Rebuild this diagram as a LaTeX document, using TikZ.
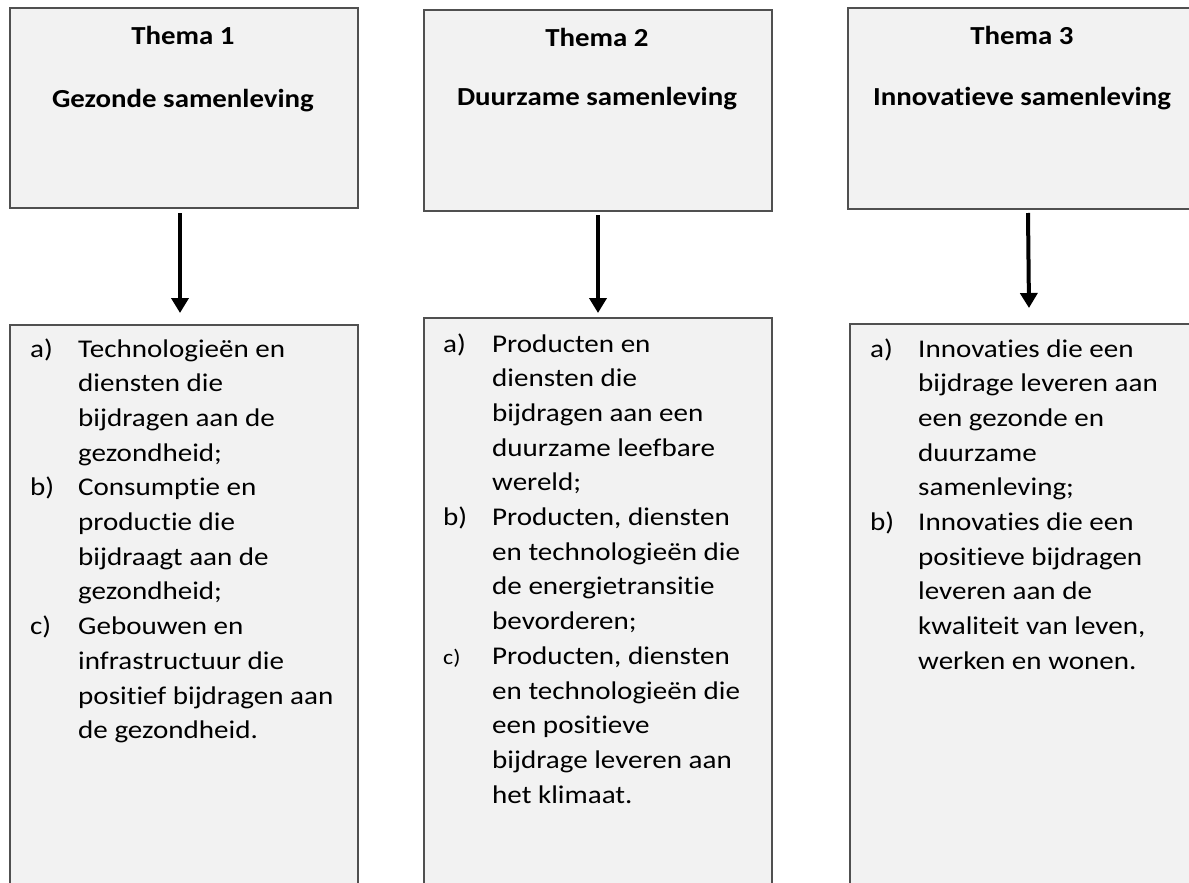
\documentclass[tikz,border=0pt]{standalone}
\usepackage{fontspec}
\setmainfont[Ligatures={NoCommon}]{Carlito}
\newfontfamily\bodyfont[Ligatures={NoCommon},FakeStretch=1.14]{Carlito}
\newfontfamily\headfont[Ligatures={NoCommon},FakeStretch=1.11]{Carlito}
\usetikzlibrary{arrows.meta}
\definecolor{boxfill}{HTML}{F2F2F2}
\definecolor{boxline}{HTML}{505050}
\tikzset{
 panel/.style={draw=boxline, line width=2pt, fill=boxfill, rectangle, inner sep=0pt, anchor=north west},
 headtxt/.style={font=\headfont\fontsize{26}{32}\selectfont\bfseries, anchor=base, inner sep=0pt},
 listtxt/.style={font=\bodyfont\fontsize{25.5}{34.7}\selectfont, anchor=base west, inner sep=0pt},
 arr/.style={line width=4pt, -{Triangle[length=15pt,width=17pt]}}
}
\newcommand{\smalllabel}[1]{{\fontsize{21}{34.7}\selectfont #1}}
\begin{document}
\begin{tikzpicture}[x=1pt,y=-1pt]
\useasboundingbox (0,0) rectangle (1189,883);
% top panels
\node[panel, minimum width=348, minimum height=200] (t1) at (9,7) {};
\node[panel, minimum width=348, minimum height=201] (t2) at (423,9) {};
\node[panel, minimum width=350, minimum height=201] (t3) at (847,7) {};
% bottom panels
\node[panel, minimum width=348, minimum height=580] (b1) at (9,324) {};
\node[panel, minimum width=348, minimum height=590] (b2) at (423,317) {};
\node[panel, minimum width=350, minimum height=580] (b3) at (849,323) {};
% headings
\node[headtxt] (h1a) at (183,45) {Thema 1};
\node[headtxt] (h1b) at (183,107) {Gezonde samenleving};
\node[headtxt] (h2a) at (597,47) {Thema 2};
\node[headtxt] (h2b) at (597,106) {Duurzame samenleving};
\node[headtxt] (h3a) at (1022,45) {Thema 3};
\node[headtxt] (h3b) at (1022,106) {Innovatieve samenleving};
% arrows
\draw[arr] ([xshift=-4pt,yshift=-4pt]t1.south) -- ([xshift=-4pt,yshift=11pt]b1.north);
\draw[arr] ([yshift=-3pt]t2.south) -- ([yshift=4pt]b2.north);
\draw[arr] ([xshift=5pt,yshift=-3pt]t3.south) -- ([xshift=4pt,yshift=15pt]b3.north);
% lists
\node[listtxt] (l1) at (30,357) {\begin{tabular}[t]{@{}p{48pt}@{}l@{}}
a) & Technologieën en\\
 & diensten die\\
 & bijdragen aan de\\
 & gezondheid;\\
b) & Consumptie en\\
 & productie die\\
 & bijdraagt aan de\\
 & gezondheid;\\
c) & Gebouwen en\\
 & infrastructuur die\\
 & positief bijdragen aan\\
 & de gezondheid.
\end{tabular}};
\node[listtxt] (l2) at (443,352) {\begin{tabular}[t]{@{}p{49pt}@{}l@{}}
a) & Producten en\\
 & diensten die\\
 & bijdragen aan een\\
 & duurzame leefbare\\
 & wereld;\\
b) & Producten, diensten\\
 & en technologieën die\\
 & de energietransitie\\
 & bevorderen;\\
\smalllabel{c)} & Producten, diensten\\
 & en technologieën die\\
 & een positieve\\
 & bijdrage leveren aan\\
 & het klimaat.
\end{tabular}};
\node[listtxt] (l3) at (870,357) {\begin{tabular}[t]{@{}p{48pt}@{}l@{}}
a) & Innovaties die een\\
 & bijdrage leveren aan\\
 & een gezonde en\\
 & duurzame\\
 & samenleving;\\
b) & Innovaties die een\\
 & positieve bijdragen\\
 & leveren aan de\\
 & kwaliteit van leven,\\
 & werken en wonen.
\end{tabular}};
\end{tikzpicture}
\end{document}
